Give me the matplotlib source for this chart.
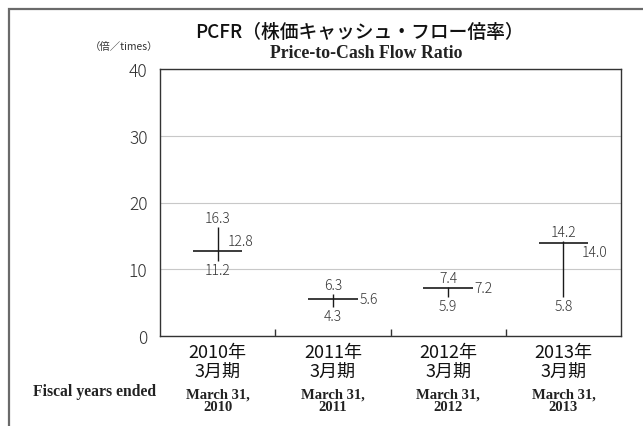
import matplotlib
matplotlib.use("Agg")
import matplotlib.pyplot as plt
from matplotlib.patches import Rectangle

# 株価キャッシュ・フロー倍率 (高値 / 安値 / 期末)
years_jp = ["2010年\n3月期", "2011年\n3月期", "2012年\n3月期", "2013年\n3月期"]
years_en = ["March 31,\n2010", "March 31,\n2011", "March 31,\n2012", "March 31,\n2013"]
high = [16.3, 6.3, 7.4, 14.2]
low = [11.2, 4.3, 5.9, 5.8]
close = [12.8, 5.6, 7.2, 14.0]

# close label offsets in points (dx, dy)
close_offsets = [(7, 7), (19, 0), (19, 0), (13, -7)]

JP = ["Noto Sans CJK JP", "DejaVu Sans"]
SERIF = ["Liberation Serif", "DejaVu Serif"]
plt.rcParams["font.family"] = JP

W, H = 643, 427
fig = plt.figure(figsize=(W / 100, H / 100), dpi=100)

# outer frame (top and left edges visible)
fig.patches.append(Rectangle((8.5 / W, -0.5), 2.0, (H - 9.5) / H + 0.5,
                             transform=fig.transFigure, fill=False,
                             edgecolor="#6a6a6a", lw=1.6))

ax = fig.add_axes([160 / W, (H - 337) / H, 461 / W, 267 / H])
x = list(range(len(high)))

ax.vlines(x, low, high, color="#1a1a1a", lw=1.0, zorder=3)
ax.hlines(close, [i - 0.215 for i in x], [i + 0.215 for i in x],
          color="#1a1a1a", lw=1.2, zorder=3)

lab = dict(fontsize=10, color="#333333", fontweight="light", family=JP)
for i in x:
    ax.annotate(f"{high[i]:.1f}", (i, high[i]), xytext=(0, 6.5),
                textcoords="offset points", ha="center", va="center", **lab)
    ax.annotate(f"{low[i]:.1f}", (i, low[i]), xytext=(0, -6.5),
                textcoords="offset points", ha="center", va="center", **lab)
    dx, dy = close_offsets[i]
    ax.annotate(f"{close[i]:.1f}", (i, close[i]), xytext=(dx, dy),
                textcoords="offset points", ha="left", va="center", **lab)

ax.set_xlim(-0.5, 3.5)
ax.set_ylim(0, 40)
ax.set_yticks([0, 10, 20, 30, 40])
ax.yaxis.grid(True, color="#c8c8c8", lw=0.8)
ax.set_axisbelow(True)
ax.tick_params(axis="y", length=0, pad=9, labelsize=12.5, labelcolor="#333333")
for t in ax.get_yticklabels():
    t.set_fontweight("light")

ax.set_xticks(x)
ax.set_xticklabels([])
ax.tick_params(axis="x", which="major", length=0)
ax.set_xticks([0.5, 1.5, 2.5], minor=True)
ax.tick_params(axis="x", which="minor", direction="in", length=5,
               width=1, color="#333333")

for s in ax.spines.values():
    s.set_color("#333333")
    s.set_linewidth(1.0)

tr = ax.get_xaxis_transform()
for i in x:
    ax.text(i, -0.095, years_jp[i], transform=tr, ha="center", va="center",
            fontsize=13, color="#111111", linespacing=1.1, family=JP)
    ax.text(i, -0.24, years_en[i], transform=tr, ha="center", va="center",
            fontsize=10.5, fontweight="bold", color="#222222",
            linespacing=1.0, family=SERIF)

fig.text(95 / W, 1 - 392 / H, "Fiscal years ended", ha="center", va="center",
         fontsize=11.3, fontweight="bold", color="#222222", family=SERIF)

fig.text(359 / W, 1 - 33 / H, "PCFR（株価キャッシュ・フロー倍率）",
         ha="center", va="center", fontsize=13.5, fontweight="medium",
         color="#111111", family=JP)
fig.text(366 / W, 1 - 53 / H, "Price-to-Cash Flow Ratio", ha="center",
         va="center", fontsize=12.8, fontweight="bold", color="#222222",
         family=SERIF)
fig.text(124 / W, 1 - 47 / H, "（倍／times）", ha="center", va="center",
         fontsize=7.5, color="#333333", family=JP)

fig.savefig("out.png", dpi=100)
